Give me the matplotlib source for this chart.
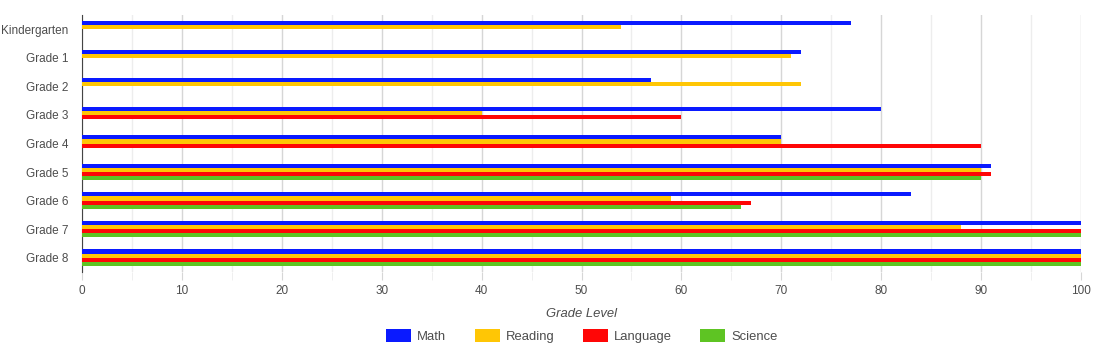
import matplotlib.pyplot as plt
import numpy as np
from matplotlib.patches import Patch

plt.rcParams['font.family'] = ['Liberation Sans', 'DejaVu Sans']

grades = ["Kindergarten", "Grade 1", "Grade 2", "Grade 3", "Grade 4",
          "Grade 5", "Grade 6", "Grade 7", "Grade 8"]
math = [77, 72, 57, 80, 70, 91, 83, 100, 100]
reading = [54, 71, 72, 40, 70, 90, 59, 88, 100]
language = [np.nan, np.nan, np.nan, 60, 90, 91, 67, 100, 100]
science = [np.nan, np.nan, np.nan, np.nan, np.nan, 90, 66, 100, 100]

series = [("Math", math, "#0a1aff"),
          ("Reading", reading, "#ffc605"),
          ("Language", language, "#ff0606"),
          ("Science", science, "#5ec423")]

fig = plt.figure(figsize=(10.98, 3.54), dpi=100)
ax = fig.add_axes([82 / 1098, 1 - 272 / 354, 999 / 1098, 257 / 354])

y = np.arange(len(grades))
slot = 0.145
for j, (name, vals, col) in enumerate(series):
    ax.barh(y + (j - 1.5) * slot, vals, height=slot, color=col, label=name, zorder=3)

ax.set_xlim(0, 100)
ax.set_ylim(len(grades) - 0.5, -0.5)
ax.set_yticks(y)
ax.set_yticklabels(grades)
ax.set_xticks(np.arange(0, 101, 10))
ax.set_xticks(np.arange(5, 100, 10), minor=True)

ax.grid(axis='x', which='major', color='#d6d6d6', linewidth=1, zorder=0)
ax.grid(axis='x', which='minor', color='#ededed', linewidth=1, zorder=0)
ax.tick_params(axis='x', which='major', length=6, color='#d6d6d6', labelsize=8.5,
               labelcolor='#4d4d4d', pad=3)
ax.tick_params(axis='x', which='minor', length=6, color='#ededed')
ax.tick_params(axis='y', length=0, labelsize=8.5, labelcolor='#4d4d4d', pad=10)

for s in ['top', 'right', 'bottom']:
    ax.spines[s].set_visible(False)
ax.spines['left'].set_color('#444444')

ax.set_xlabel("Grade Level", fontstyle='italic', fontsize=9.4, color='#4d4d4d', labelpad=8)

handles = [Patch(facecolor=c, label=n) for n, _, c in series]
fig.legend(handles=handles, loc='center', bbox_to_anchor=(0.530, 1 - 336 / 354), ncol=4,
           frameon=False, fontsize=9.4, handlelength=1.9, handleheight=1.1,
           columnspacing=2.2, handletextpad=0.45, labelcolor='#4d4d4d')

fig.savefig("out.png", dpi=100)
